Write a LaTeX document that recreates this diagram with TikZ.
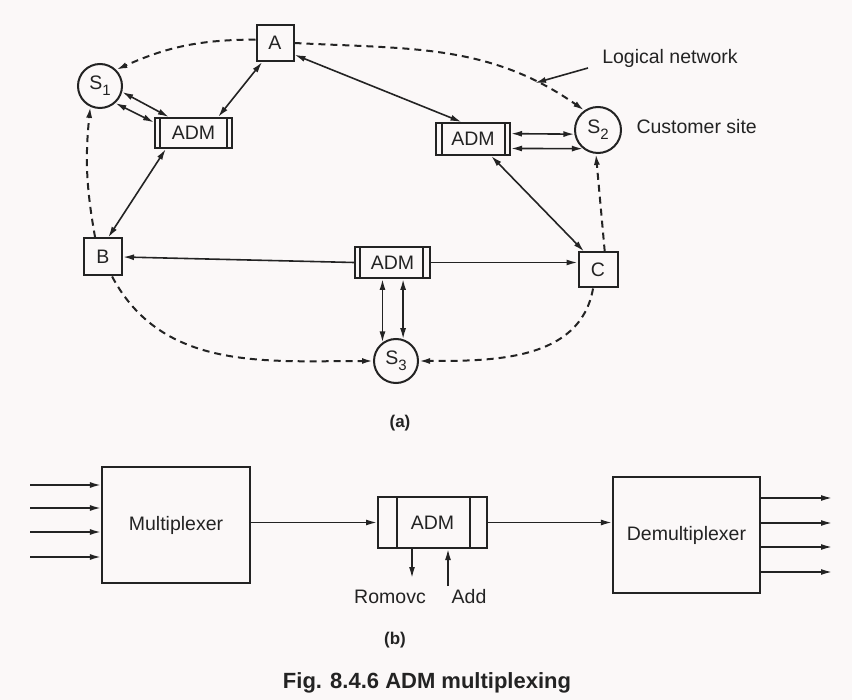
\documentclass[tikz,border=0pt]{standalone}
\usepackage{fontspec}
\setmainfont{Liberation Sans}
\usepackage{tikz}
\usetikzlibrary{arrows.meta,positioning,calc}
\definecolor{inkgray}{RGB}{35,35,35}
\definecolor{paper}{RGB}{251,248,248}
\newcommand{\sitelabel}[1]{S\raisebox{-6pt}{\fontsize{15}{15}\selectfont #1}}

\begin{document}
\begin{tikzpicture}[
        x=1pt, y=1pt,
        font=\fontsize{19.5}{23}\selectfont,
        every node/.style={text=inkgray},
        station/.style={draw=inkgray, line width=2pt, minimum width=37pt, minimum height=36pt, inner sep=0pt},
        site/.style={draw=inkgray, line width=2pt, circle, minimum size=44pt, inner sep=0pt},
        adm/.style={draw=inkgray, line width=2pt, inner sep=0pt},
        strips/.style 2 args={path picture={
            \draw[inkgray, line width=1.4pt] ([xshift=#1]path picture bounding box.north west) -- ([xshift=#1]path picture bounding box.south west);
            \draw[inkgray, line width=1.4pt] ([xshift=-#2]path picture bounding box.north east) -- ([xshift=-#2]path picture bounding box.south east);}},
        block/.style={draw=inkgray, line width=2.2pt, minimum width=148pt, minimum height=116pt, inner sep=0pt},
        link/.style={draw=inkgray, line width=1.6pt, {Latex[length=11pt,width=6pt]}-{Latex[length=11pt,width=6pt]}},
        feed/.style={draw=inkgray, line width=1.6pt, -{Latex[length=11pt,width=6pt]}},
        logical/.style={draw=inkgray, line width=2pt, dash pattern=on 7pt off 5pt, -{Latex[length=11pt,width=6pt]}}
    ]
        % Page
        \fill[paper] (0,0) rectangle (852,-700);
        \useasboundingbox (0,0) rectangle (852,-700);

        % Stations and customer sites
        \node[station] (A) at (275,-43) {A};
        \node[station, minimum width=38pt, minimum height=37pt] (B) at (103,-257) {B};
        \node[station, minimum width=39pt, minimum height=35pt] (C) at (598,-270) {C};
        \node[site] (S1) at (100,-86) {\sitelabel{1}};
        \node[site, minimum size=46pt] (S2) at (598,-130) {\sitelabel{2}};
        \node[site] (S3) at (396,-361) {\sitelabel{3}};

        % Add/drop multiplexers
        \node[adm, strips={5pt}{5pt}, minimum width=77pt, minimum height=30pt] (adm1) at (193.5,-133) {ADM};
        \node[adm, strips={6pt}{5pt}, minimum width=74pt, minimum height=32pt] (adm2) at (473,-139) {ADM};
        \node[adm, strips={5pt}{7pt}, minimum width=75pt, minimum height=31pt] (adm3) at (392.5,-262.5) {ADM};

        % Labels
        \node (lognet) at (670,-58) {Logical network};
        \node[anchor=west] (custsite) at (633,-127) {Customer site};
        \node[font=\fontsize{17}{20}\selectfont\bfseries] (capa) at (400,-423) {(a)};
        \coordinate (lnfoot) at (588,-68);
        \coordinate (lntip) at (535,-83);
        \draw[feed] (lnfoot) -- (lntip);

        % Logical network
        \draw[logical] (A.170) to[bend right=12] (S1.45);
        \draw[logical] (A.east) to[out=-3, in=145] (S2.125);
        \draw[logical] (B.112) to[bend left=8] (S1.245);
        \draw[logical] (B.-65) to[out=-62, in=180] (S3.west);
        \draw[logical] (C.-105) to[out=-100, in=0] (S3.east);
        \draw[logical] (C.70) -- (S2.265);

        % Physical links
        \draw[link] (S1.-15) -- (adm1.147);
        \draw[link] (S1.-48) -- (adm1.165);
        \draw[link] (adm1.33) -- (A.236);
        \draw[link] (A.-31) -- (adm2.124);
        \draw[link] (adm1.210) -- (B.75);
        \draw[link] (adm2.8) -- (S2.190);
        \draw[link] (adm2.-14) -- (S2.231);
        \draw[link] (adm2.-43) -- (C.127);
        \draw[feed] (adm3.west) -- (B.east);
        \draw[feed] (adm3.east) -- (adm3.east -| C.west);
        \draw[link] (S3.126 |- adm3.south) -- (S3.126);
        \draw[link] (S3.72 |- adm3.south) -- (S3.72);

        % Multiplexing chain
        \node[block] (mux) at (176,-525) {Multiplexer};
        \node[adm, strips={19pt}{17pt}, minimum width=109pt, minimum height=51pt] (adm4) at (432.5,-522.5) {ADM};
        \node[block, minimum width=147pt] (demux) at (686.5,-535) {Demultiplexer};

        \foreach \k/\yy in {1/485,2/508,3/532,4/557} {
            \coordinate (in\k) at (30,-\yy);
            \draw[feed] (in\k) -- (in\k -| mux.west);
        }
        \foreach \k/\yy in {1/498,2/523,3/547,4/572} {
            \coordinate (out\k) at (832,-\yy);
            \draw[feed] (out\k -| demux.east) -- (out\k);
        }
        \draw[feed] (adm4.west -| mux.east) -- (adm4.west);
        \draw[feed] (adm4.east) -- (adm4.east -| demux.west);

        \node (remove) at (390,-597) {Romovc};
        \node (add) at (469,-597) {Add};
        \coordinate (remtip) at (412,-578);
        \coordinate (addfoot) at (448,-586);
        \draw[feed] (remtip |- adm4.south) -- (remtip);
        \draw[feed] (addfoot) -- (addfoot |- adm4.south);

        \node[font=\fontsize{17}{20}\selectfont\bfseries] (capb) at (395,-640) {(b)};
        \node[font=\fontsize{22}{26}\selectfont\bfseries] (caption) at (427,-683) {Fig. 8.4.6 ADM multiplexing};
    \end{tikzpicture}
\end{document}
